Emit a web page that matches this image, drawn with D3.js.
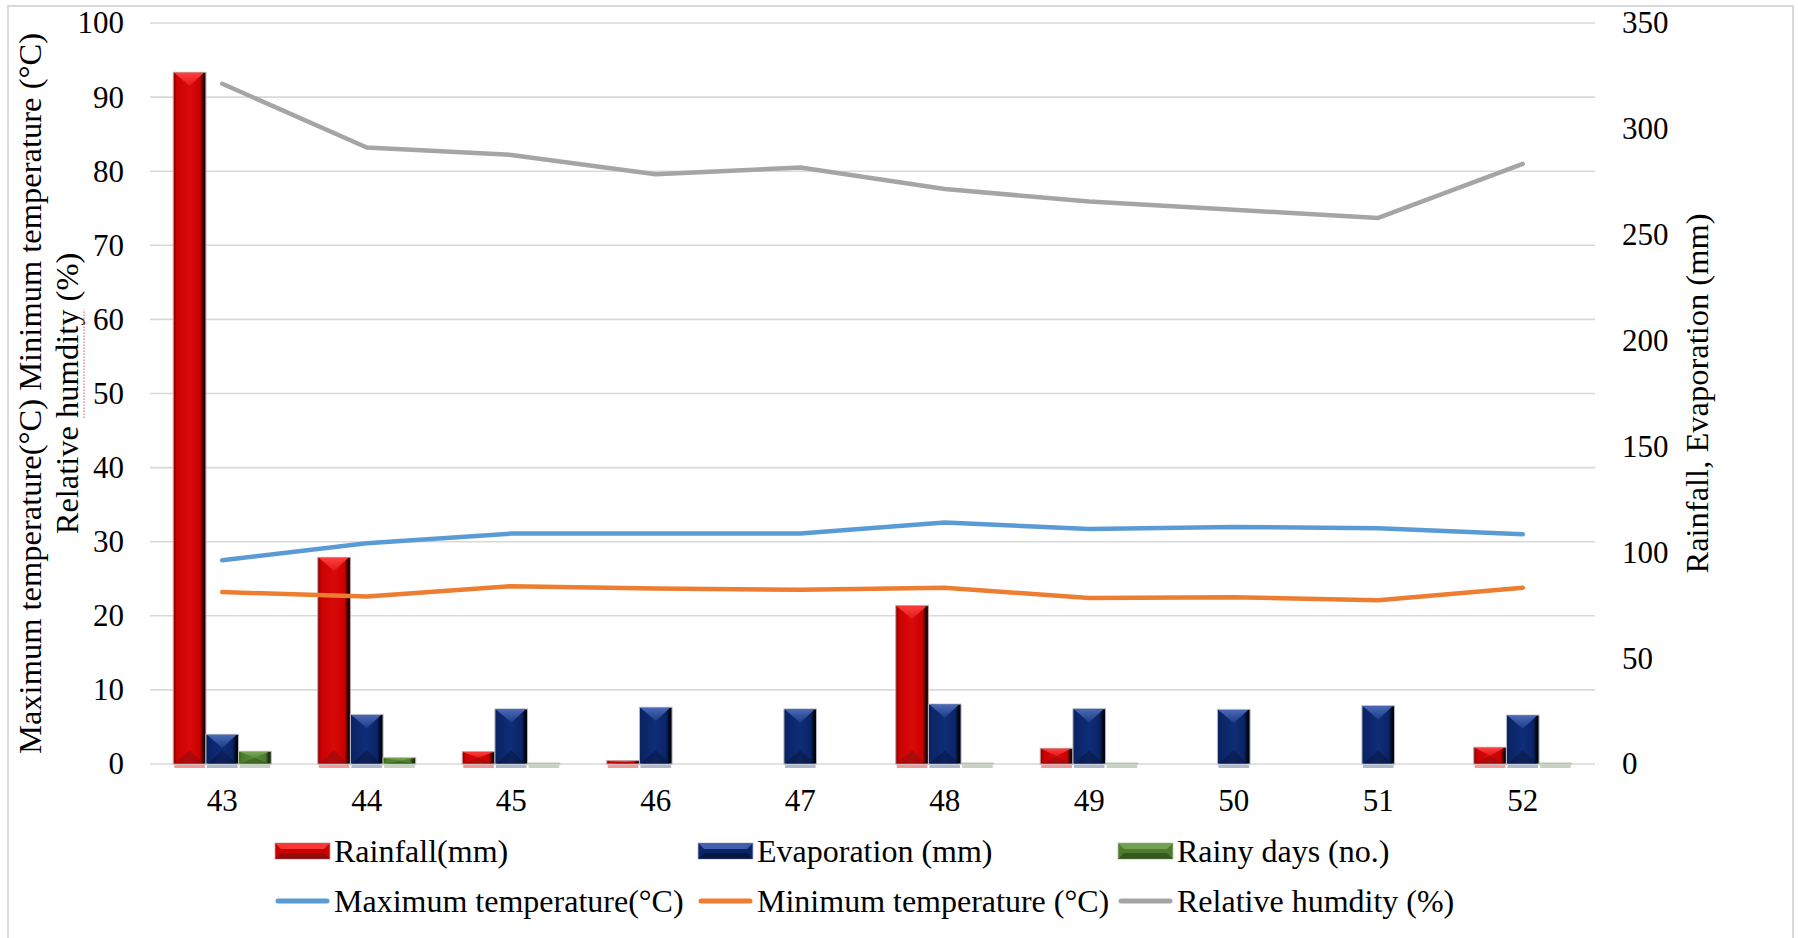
<!DOCTYPE html>
<html>
<head>
<meta charset="utf-8">
<script src="https://cdn.jsdelivr.net/npm/d3@7"></script>
<style>
  html, body { margin: 0; padding: 0; background: #fff; }
  svg text { font-family: "Liberation Serif", "Times New Roman", serif; fill: #000; }
</style>
</head>
<body>
<svg id="chart" width="1798" height="938"></svg>
<script>
// Standard meteorological weeks
const weeks = ["43", "44", "45", "46", "47", "48", "49", "50", "51", "52"];

// Bar series (right axis, mm / days)
const rainfall    = [326.7, 97.6, 5.8, 1.6, null, 74.8, 7.4, null, null, 7.9];
const evaporation = [14.0, 23.4, 26.0, 26.8, 26.0, 28.3, 26.1, 25.8, 27.5, 23.1];
const rainyDays   = [6, 3, 0, null, null, 0, 0, null, null, 0];

// Line series (left axis)
const maxTemp  = [27.5, 29.8, 31.1, 31.1, 31.1, 32.6, 31.7, 32.0, 31.8, 31.0];
const minTemp  = [23.2, 22.6, 24.0, 23.7, 23.5, 23.8, 22.4, 22.5, 22.1, 23.8];
const humidity = [91.8, 83.2, 82.2, 79.6, 80.5, 77.6, 75.9, 74.8, 73.7, 81.0];

// Axis ticks
const leftTicks  = [0, 10, 20, 30, 40, 50, 60, 70, 80, 90, 100];
const rightTicks = [0, 50, 100, 150, 200, 250, 300, 350];

// Series names
const barNames  = ["Rainfall(mm)", "Evaporation (mm)", "Rainy days (no.)"];
const lineNames = ["Maximum temperature(°C)", "Minimum temperature (°C)", "Relative humdity (%)"];

const leftTitle1 = "Maximum temperature(°C)  Minimum temperature (°C)";
const leftTitle2 = "Relative humdity (%)";
const rightTitle = "Rainfall,  Evaporation (mm)";

// ---- layout ----
const svg = d3.select("#chart");
const plot = { left: 150, right: 1595, top: 23, bottom: 764 };
const TICK_FONT = 31;
const LEGEND_FONT = 32;
const TITLE_FONT = 32.5;

// outer frame
svg.append("rect")
  .attr("x", 8).attr("y", 6).attr("width", 1785).attr("height", 960)
  .attr("fill", "none").attr("stroke", "#d9d9d9").attr("stroke-width", 2);

const x = d3.scaleBand().domain(weeks).range([plot.left, plot.right])
  .paddingInner(0.322).paddingOuter(0.161);
const xs = d3.scaleBand().domain(d3.range(3)).range([0, x.bandwidth()]);
const yL = d3.scaleLinear().domain([0, 100]).range([plot.bottom, plot.top]);
const yR = d3.scaleLinear().domain([0, 350]).range([plot.bottom, plot.top]);

// ---- bevelled bar styles ----
const styles = [
  { id: "rain", edgeL: "#7a0000", main: "#cc0000", mid: "#d80a0a", edgeR: "#1a0000",
    top: "#ff4040", bottom: "#7a1010", refl: "#f08080", outline: "#c8a0a0" },
  { id: "evap", edgeL: "#0d2258", main: "#0a2466", mid: "#0f2d78", edgeR: "#00040f",
    top: "#4a6ab8", bottom: "#061236", refl: "#9aa6c0", outline: "#b8bccb" },
  { id: "days", edgeL: "#3a5f22", main: "#4c7c2c", mid: "#578a34", edgeR: "#1b2c10",
    top: "#7aa85a", bottom: "#2c4a18", refl: "#b8c8b0", outline: "#b8c4b0" }
];

const defs = svg.append("defs");
styles.forEach(s => {
  const g = defs.append("linearGradient").attr("id", "grad-" + s.id)
    .attr("x1", "0").attr("x2", "1").attr("y1", "0").attr("y2", "0");
  [[0, s.edgeL], [0.1, s.main], [0.5, s.mid], [0.82, s.main], [0.93, s.edgeR], [1, s.edgeR]]
    .forEach(([o, c]) => g.append("stop").attr("offset", o).attr("stop-color", c));
  const t = defs.append("linearGradient").attr("id", "top-" + s.id)
    .attr("x1", "0").attr("x2", "0").attr("y1", "0").attr("y2", "1");
  t.append("stop").attr("offset", 0).attr("stop-color", s.top).attr("stop-opacity", 1);
  t.append("stop").attr("offset", 1).attr("stop-color", s.top).attr("stop-opacity", 0.25);
});

// ---- gridlines ----
svg.append("g").selectAll("line").data(leftTicks).join("line")
  .attr("x1", plot.left).attr("x2", plot.right)
  .attr("y1", d => yL(d)).attr("y2", d => yL(d))
  .attr("stroke", "#d9d9d9").attr("stroke-width", 1.6);

// ---- axes ----
const axisL = svg.append("g").attr("transform", `translate(${plot.left - 26},0)`)
  .call(d3.axisLeft(yL).tickValues(leftTicks).tickSize(0).tickPadding(0));
const axisR = svg.append("g").attr("transform", `translate(${plot.right + 27},0)`)
  .call(d3.axisRight(yR).tickValues(rightTicks).tickSize(0).tickPadding(0));
const axisX = svg.append("g").attr("transform", `translate(0,${plot.bottom + 24})`)
  .call(d3.axisBottom(x).tickSize(0).tickPadding(0));
[axisL, axisR, axisX].forEach(a => {
  a.select(".domain").remove();
  a.selectAll("text").attr("font-size", TICK_FONT).attr("fill", "#000")
    .style("font-family", "'Liberation Serif', serif");
});
axisX.selectAll("text").attr("dy", "0.75em");

// ---- bars ----
const barSeries = [rainfall, evaporation, rainyDays];
const barsG = svg.append("g");
barSeries.forEach((vals, si) => {
  const s = styles[si];
  const items = vals.map((v, i) => ({ week: weeks[i], v })).filter(d => d.v !== null);
  const grp = barsG.append("g");
  items.forEach(d => {
    const x0 = x(d.week) + xs(si);
    const w = xs.bandwidth();
    const y0 = yR(d.v);
    const h = yR(0) - y0;
    const x1 = x0 + w, xm = x0 + w / 2;
    // reflection just under the baseline
    grp.append("rect").attr("x", x0 + 1).attr("y", plot.bottom + 1)
      .attr("width", w - 2).attr("height", 3).attr("fill", s.refl).attr("opacity", 0.8);
    if (h < 0.5) {
      grp.append("rect").attr("x", x0).attr("y", plot.bottom - 1.5)
        .attr("width", w).attr("height", 2).attr("fill", s.outline);
      return;
    }
    grp.append("rect").attr("x", x0).attr("y", y0).attr("width", w).attr("height", h)
      .attr("fill", `url(#grad-${s.id})`).attr("stroke", s.outline).attr("stroke-width", 1);
    const depth = Math.min(w * 0.42, h / 2);
    grp.append("path")
      .attr("d", `M${x0 + 1},${y0 + 0.5}L${x1 - 2},${y0 + 0.5}L${xm},${y0 + depth}Z`)
      .attr("fill", `url(#top-${s.id})`);
    grp.append("path")
      .attr("d", `M${x0 + 1},${plot.bottom}L${x1 - 2},${plot.bottom}L${xm},${plot.bottom - depth}Z`)
      .attr("fill", s.bottom).attr("opacity", 0.45);
  });
});

// ---- lines ----
const lineSeries = [maxTemp, minTemp, humidity];
const lineColors = ["#5b9bd5", "#ed7d31", "#a5a5a5"];
const lineGen = d3.line().x((d, i) => x(weeks[i]) + x.bandwidth() / 2).y(d => yL(d));
lineSeries.forEach((vals, i) => {
  svg.append("path").datum(vals).attr("d", lineGen)
    .attr("fill", "none").attr("stroke", lineColors[i]).attr("stroke-width", 4.5)
    .attr("stroke-linecap", "round").attr("stroke-linejoin", "round");
});

// ---- axis titles ----
const midY = (plot.top + plot.bottom) / 2;
const lt = svg.append("g").attr("transform", `translate(41,${midY}) rotate(-90)`);
lt.append("text").attr("text-anchor", "middle").attr("font-size", TITLE_FONT).text(leftTitle1);
const lt2 = lt.append("text").attr("text-anchor", "middle").attr("y", 37)
  .attr("font-size", TITLE_FONT).text(leftTitle2);
// dotted proofing mark under the misspelt word
{
  const node = lt2.node();
  const total = node.getComputedTextLength();
  const idx = leftTitle2.indexOf("humdity");
  const start = node.getSubStringLength(0, idx);
  const len = node.getSubStringLength(idx, 7);
  lt.append("line")
    .attr("x1", -total / 2 + start).attr("x2", -total / 2 + start + len)
    .attr("y1", 37 + 6).attr("y2", 37 + 6)
    .attr("stroke", "#f08a8a").attr("stroke-width", 1.5).attr("stroke-dasharray", "1.5,1.5");
}
svg.append("g").attr("transform", `translate(1708,${midY}) rotate(-90)`)
  .append("text").attr("text-anchor", "middle").attr("font-size", TITLE_FONT).text(rightTitle);

// ---- legend ----
const legX = [275, 698, 1118];
const legRowY = [851, 901];
const sw = 55;
barNames.forEach((name, i) => {
  const s = styles[i];
  const gx = legX[i], gy = legRowY[0];
  const g = svg.append("g");
  g.append("rect").attr("x", gx).attr("y", gy - 8).attr("width", sw).attr("height", 16)
    .attr("fill", s.main).attr("stroke", s.outline).attr("stroke-width", 0.8);
  g.append("path").attr("d", `M${gx},${gy - 8}L${gx + sw},${gy - 8}L${gx + sw - 6},${gy - 2}L${gx + 6},${gy - 2}Z`)
    .attr("fill", s.top).attr("opacity", 0.85);
  g.append("path").attr("d", `M${gx},${gy + 8}L${gx + sw},${gy + 8}L${gx + sw - 6},${gy + 2}L${gx + 6},${gy + 2}Z`)
    .attr("fill", s.bottom).attr("opacity", 0.7);
  g.append("text").attr("x", gx + sw + 4).attr("y", gy).attr("dy", "0.35em")
    .attr("font-size", LEGEND_FONT).text(name);
});
lineNames.forEach((name, i) => {
  const gx = legX[i], gy = legRowY[1];
  svg.append("line").attr("x1", gx + 3).attr("x2", gx + sw - 3).attr("y1", gy).attr("y2", gy)
    .attr("stroke", lineColors[i]).attr("stroke-width", 5).attr("stroke-linecap", "round");
  svg.append("text").attr("x", gx + sw + 4).attr("y", gy).attr("dy", "0.35em")
    .attr("font-size", LEGEND_FONT).text(name);
});
</script>
</body>
</html>
